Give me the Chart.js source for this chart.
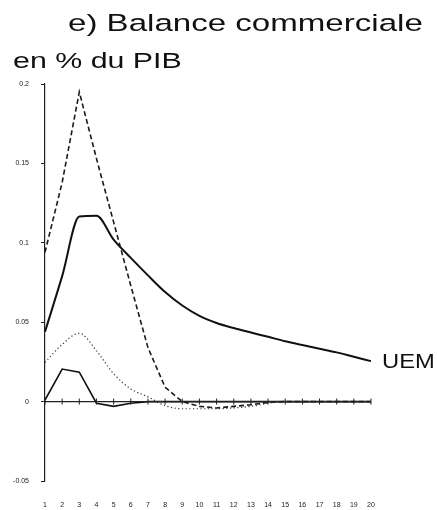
<!DOCTYPE html>
<html>
<head>
<meta charset="utf-8">
<script src="https://cdn.jsdelivr.net/npm/chart.js@4.4.1/dist/chart.umd.min.js"></script>
<style>
    body { margin: 0; background: #fff; }
    #wrap { position: relative; width: 437px; height: 510px; }
    .txt {
        position: absolute;
        font-family: "Liberation Sans", Arial, Helvetica, sans-serif;
        color: #111;
        white-space: nowrap;
        transform-origin: left top;
    }
</style>
</head>
<body>
<div id="wrap">
    <canvas id="chart" width="437" height="510"></canvas>
    <div class="txt" style="left:68px; top:11px; font-size:24.5px; line-height:24.5px; transform:scaleX(1.35);">e) Balance commerciale</div>
    <div class="txt" style="left:13px; top:50px; font-size:22px; line-height:22px; transform:scaleX(1.38);">en % du PIB</div>
    <div class="txt" style="left:382px; top:350px; font-size:21px; line-height:21px; transform:scaleX(1.13);">UEM</div>
</div>
<script>
// données
const periodes = ['1', '2', '3', '4', '5', '6', '7', '8', '9', '10',
                  '11', '12', '13', '14', '15', '16', '17', '18', '19', '20'];
const axeZero = [0, 0, 0, 0, 0, 0, 0, 0, 0, 0, 0, 0, 0, 0, 0, 0, 0, 0, 0, 0];
const serieTirets = [0.094, 0.138, 0.195, 0.153, 0.113, 0.073, 0.034, 0.009, 0.000, -0.003,
                     -0.004, -0.003, -0.002, -0.0005, 0, 0, 0, 0, 0, 0];
const serieUEM = [0.044, 0.079, 0.1165, 0.117, 0.102, 0.0905, 0.0795, 0.069, 0.0605, 0.054,
                  0.0495, 0.0463, 0.0435, 0.0408, 0.038, 0.0356, 0.0333, 0.031, 0.0282, 0.0255];
const seriePointillee = [0.0247, 0.036, 0.043, 0.032, 0.0175, 0.008, 0.003, -0.0025, -0.0045, -0.0045,
                         -0.0045, -0.004, -0.003, -0.001, 0, 0, 0, 0, 0, 0];
const serieFaible = [0.001, 0.0205, 0.0185, -0.001, -0.003, -0.001, 0, 0, 0, 0,
                     0, 0, 0, 0, 0, 0, 0, 0, 0, 0];
const yTicks = [-0.05, 0, 0.05, 0.1, 0.15, 0.2];

const ctx = document.getElementById('chart').getContext('2d');

new Chart(ctx, {
    type: 'line',
    data: {
        labels: periodes,
        datasets: [
            {
                label: 'axe',
                data: axeZero,
                borderColor: '#222',
                borderWidth: 1.2,
                pointStyle: 'line',
                rotation: 90,
                pointRadius: 3,
                pointBorderColor: '#222',
                pointBorderWidth: 1
            },
            {
                label: 'tirets',
                data: serieTirets,
                borderColor: '#1a1a1a',
                borderWidth: 1.6,
                borderDash: [5, 3],
                pointRadius: 0
            },
            {
                label: 'UEM',
                data: serieUEM,
                borderColor: '#111',
                borderWidth: 2,
                cubicInterpolationMode: 'monotone',
                pointRadius: 0
            },
            {
                label: 'pointillés',
                data: seriePointillee,
                borderColor: '#333',
                borderWidth: 1.2,
                borderDash: [1.2, 2.5],
                cubicInterpolationMode: 'monotone',
                pointRadius: 0
            },
            {
                label: 'faible',
                data: serieFaible,
                borderColor: '#111',
                borderWidth: 1.6,
                pointRadius: 0
            }
        ]
    },
    options: {
        responsive: false,
        animation: false,
        layout: {
            padding: { top: 84, right: 66, left: 0, bottom: 0 }
        },
        plugins: {
            legend: { display: false },
            tooltip: { enabled: false }
        },
        scales: {
            x: {
                type: 'category',
                offset: false,
                grid: { display: false },
                border: { display: false },
                ticks: {
                    autoSkip: false,
                    maxRotation: 0,
                    padding: 12,
                    color: '#222',
                    font: { family: 'Liberation Sans', size: 7 }
                },
                afterFit: function(scale) {
                    scale.height = 29;
                }
            },
            y: {
                min: -0.05,
                max: 0.2,
                afterBuildTicks: function(scale) {
                    scale.ticks = yTicks.map(v => ({ value: v }));
                },
                grid: {
                    drawOnChartArea: false,
                    tickLength: 4,
                    color: '#222'
                },
                border: { display: true, color: '#222', width: 1.2 },
                ticks: {
                    padding: 12,
                    color: '#222',
                    font: { family: 'Liberation Sans', size: 7 },
                    callback: function(value) {
                        return String(Number(value.toFixed(2)));
                    }
                },
                afterFit: function(scale) {
                    scale.width = 45;
                }
            }
        }
    }
});
</script>
</body>
</html>
